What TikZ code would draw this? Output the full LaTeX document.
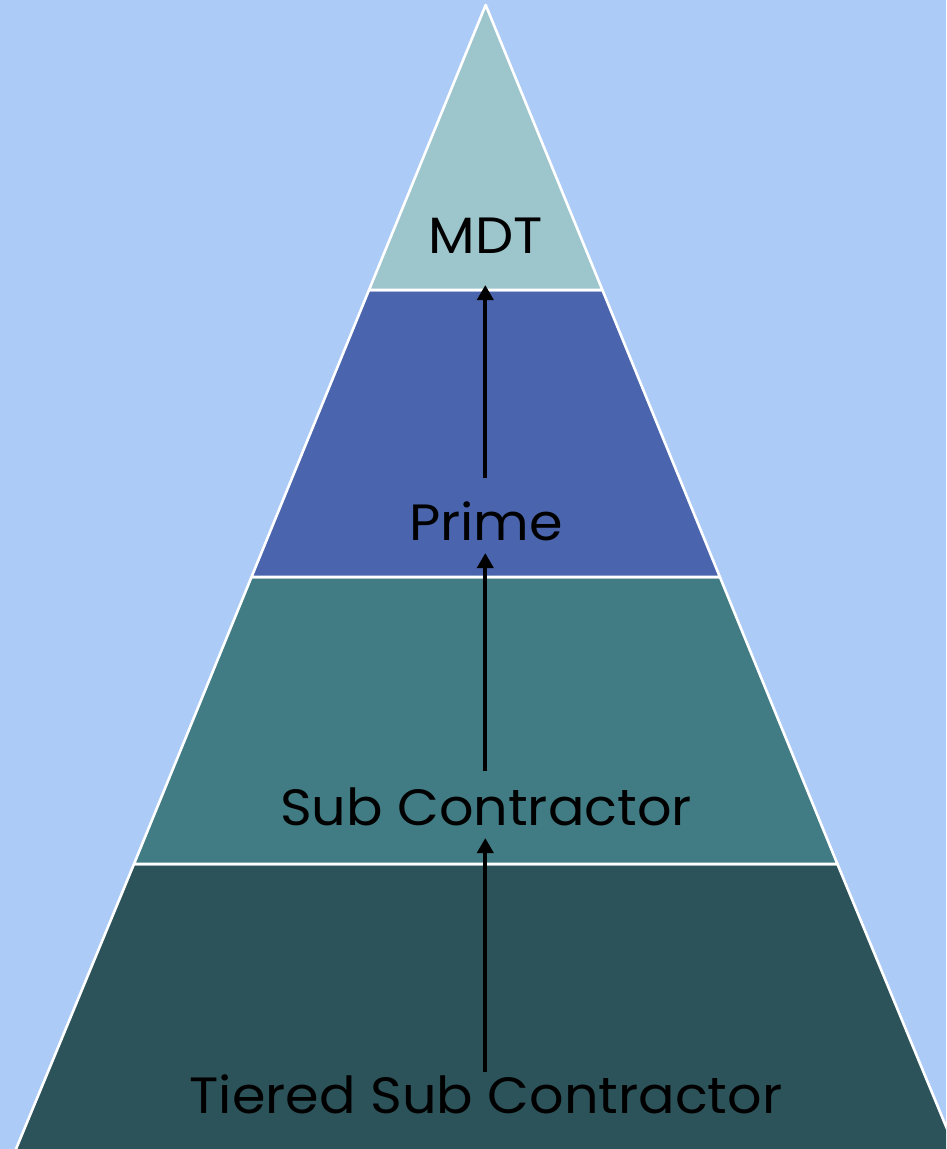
\documentclass[tikz,border=0pt]{standalone}
\usepackage{fontspec}
\setmainfont{Poppins}
\usetikzlibrary{arrows.meta}
\definecolor{bg}{RGB}{173,203,247}
\definecolor{cmdt}{RGB}{157,197,204}
\definecolor{cprime}{RGB}{74,101,173}
\definecolor{csub}{RGB}{65,123,132}
\definecolor{ctier}{RGB}{44,83,90}
\tikzset{
  band/.style={draw=white, line width=2.6pt, line join=round},
  lbl/.style={font=\fontsize{51}{56}\selectfont, text=black, inner sep=0pt, anchor=base, xscale=1.06, transform shape},
  uparrow/.style={draw=black, line width=4pt, -{Triangle[length=15pt,width=16pt]}}
}
\begin{document}
\begin{tikzpicture}[x=1pt,y=-1pt]
\useasboundingbox (0,0) rectangle (946,1149);
\fill[bg] (0,0) rectangle (946,1149);
\begin{scope}
\clip (0,0) rectangle (946,1149);
\coordinate (apex) at (485.7,5);
\coordinate (l1) at (369.0,290);  \coordinate (r1) at (602.4,290);
\coordinate (l2) at (251.5,577);  \coordinate (r2) at (719.9,577);
\coordinate (l3) at (134.0,864);  \coordinate (r3) at (837.4,864);
\coordinate (l4) at (15.2,1151);   \coordinate (r4) at (956.2,1151);
\filldraw[band, fill=ctier] (l3) -- (r3) -- (r4) -- (l4) -- cycle;
\filldraw[band, fill=csub] (l2) -- (r2) -- (r3) -- (l3) -- cycle;
\filldraw[band, fill=cprime] (l1) -- (r1) -- (r2) -- (l2) -- cycle;
\filldraw[band, fill=cmdt] (apex) -- (r1) -- (l1) -- cycle;
\end{scope}
\node[lbl] (mdt) at (486,253) {MDT};
\node[lbl] (prime) at (486,540) {Prime};
\node[lbl] (sub) at (486,825) {Sub Contractor};
\node[lbl] (tier) at (486,1113) {Tiered Sub Contractor};
\coordinate (b1) at (485.3,285);
\coordinate (b2) at (485.3,553);
\coordinate (b3) at (485.3,838);
\coordinate (s1) at (485.3,478);
\coordinate (s2) at (485.3,771);
\coordinate (s3) at (485.3,1072);
\draw[uparrow] (s1) -- (b1);
\draw[uparrow] (s2) -- (b2);
\draw[uparrow] (s3) -- (b3);
\end{tikzpicture}
\end{document}
